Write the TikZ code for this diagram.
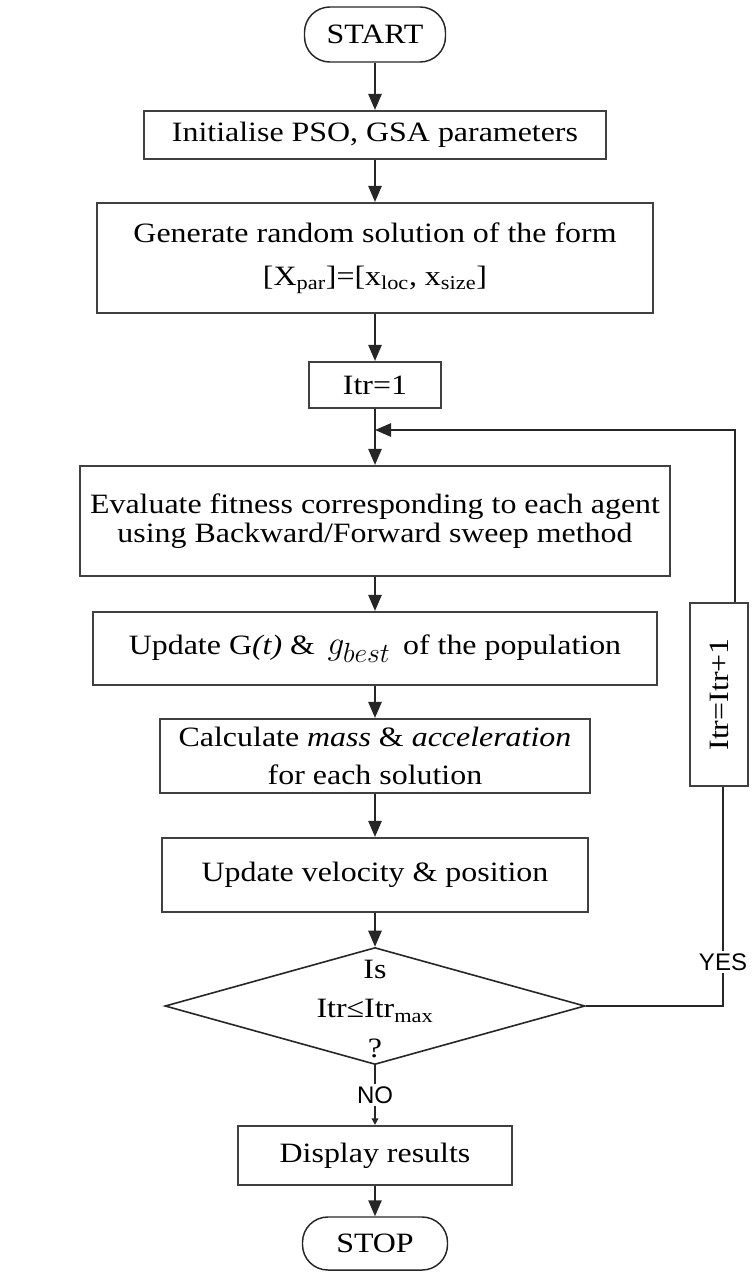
\documentclass[tikz,border=0pt]{standalone}
\usepackage{fontspec}
\setmainfont{Liberation Serif}[FakeStretch=1.14]
\newfontfamily\yesnofont{Liberation Sans}
\usetikzlibrary{arrows.meta,shapes.geometric}

\tikzset{every picture/.style={line width=0.75pt}}
\tikzset{
  procbox/.style={draw=black!75, line width=1.6pt, fill=white, align=center, inner sep=0pt, font=\fontsize{21}{28}\selectfont},
  termbox/.style={draw=black!85, line width=1.1pt, rounded corners=19pt, align=center, inner sep=0pt, font=\fontsize{21}{28}\selectfont},
  decbox/.style={draw=black!85, diamond, line width=1.2pt, inner sep=0pt},
  flowline/.style={draw=black!85, line width=1.2pt},
  flowarrow/.style={flowline, -{Triangle[length=12pt,width=10pt]}},
  yesno/.style={fill=white, inner sep=2pt, font=\yesnofont\fontsize{18}{18}\selectfont},
}

\begin{document}
\begin{tikzpicture}[x=0.75pt,y=0.75pt,yscale=-1,xscale=1]
\useasboundingbox (0,0) rectangle (752,1274);

%Shape: Terminal
\node[termbox, minimum width=105.75pt, minimum height=41.25pt] (start) at (375,34.5) {START};
%Shape: Rectangle
\node[procbox, minimum width=346.5pt, minimum height=36pt] (init) at (375,135) {Initialise PSO, GSA parameters};
%Shape: Rectangle
\node[procbox, minimum width=417pt, minimum height=82.5pt] (gen) at (375,258) {Generate random solution of the form\\[4pt] [X\textsubscript{par}]=[x\textsubscript{loc}, x\textsubscript{size}]};
%Shape: Rectangle
\node[procbox, minimum width=99pt, minimum height=34.5pt] (itr) at (375,385) {Itr=1};
%Shape: Rectangle
\node[procbox, minimum width=442.5pt, minimum height=82.5pt, font=\fontsize{21}{22}\selectfont] (eval) at (375,521) {Evaluate fitness corresponding to each agent\\using Backward/Forward sweep method};
%Shape: Rectangle
\node[procbox, minimum width=423pt, minimum height=54.75pt] (updg) at (375,648.5) {Update G\textit{(t)} \& \,{\fontsize{29}{29}\selectfont$g_{best}$}\, of the population};
%Shape: Rectangle
\node[procbox, minimum width=322.5pt, minimum height=55.5pt] (mass) at (375,756) {Calculate \textit{mass} \& \textit{acceleration}\\for each solution};
%Shape: Rectangle
\node[procbox, minimum width=320pt, minimum height=55.5pt] (vel) at (375,875) {Update velocity \& position};
%Shape: Diamond
\node[decbox, minimum width=315pt, minimum height=87.75pt] (dec) at (375,1006) {};
% Text Node
\node[align=center, font=\fontsize{21}{29.5}\selectfont] (dectext) at (375,1009) {Is\\Itr≤Itr\textsubscript{max}\\?};
%Shape: Rectangle
\node[procbox, minimum width=205.5pt, minimum height=44.25pt] (disp) at (375,1155.5) {Display results};
%Shape: Terminal
\node[termbox, minimum width=108.75pt, minimum height=39.75pt] (stop) at (375,1243.5) {STOP};
%Shape: Rectangle
\node[procbox, rotate=90, minimum width=137.25pt, minimum height=43.5pt] (incr) at (719,694.5) {Itr=Itr+1};

\coordinate (join) at (375,430);
\coordinate (loopTop) at (735,430);
\coordinate (loopBot) at (723,1006);

%Straight Lines
\draw[flowarrow] (start) -- (init);
\draw[flowarrow] (init) -- (gen);
\draw[flowarrow] (gen) -- (itr);
\draw[flowarrow] (itr) -- (eval);
\draw[flowarrow] (eval) -- (updg);
\draw[flowarrow] (updg) -- (mass);
\draw[flowarrow] (mass) -- (vel);
\draw[flowarrow] (vel) -- (dec);
\draw[flowline, -{Triangle[length=5pt,width=5pt]}] (dec) -- node[yesno] (no) {NO} (disp);
\draw[flowarrow] (disp) -- (stop);
%Straight Lines: loop back
\draw[flowline] (dec.east) -- (loopBot) -- node[yesno, pos=0.2] (yes) {YES} (loopBot |- incr.west);
\draw[flowarrow] (loopTop |- incr.east) -- (loopTop) -- (join);

\end{tikzpicture}
\end{document}
